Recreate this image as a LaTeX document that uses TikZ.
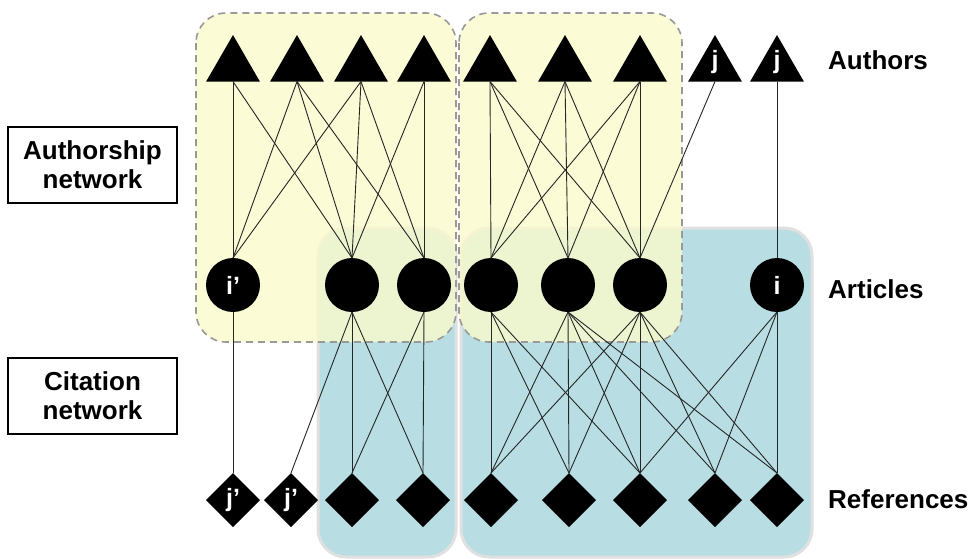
\documentclass[tikz,border=0pt]{standalone}
\usepackage{fontspec}
\setmainfont{Liberation Sans}
\usetikzlibrary{shapes.geometric}
\definecolor{yel}{RGB}{251,250,204}
\definecolor{blu}{RGB}{184,222,228}
\newcommand\lblfont{\bfseries\fontsize{26}{29}\selectfont}
\newcommand\infont{\bfseries\fontsize{25}{25}\selectfont}
\begin{document}
\begin{tikzpicture}[x=1pt,y=-1pt,
  author/.style={regular polygon, regular polygon sides=3, fill=black, minimum size=62pt, inner sep=0pt, outer sep=0pt},
  article/.style={circle, fill=black, minimum size=54pt, inner sep=0pt, outer sep=0pt, text=white, font=\infont},
  refnode/.style={diamond, fill=black, minimum size=54pt, inner sep=0pt, outer sep=0pt, text=white, font=\infont},
  link/.style={line width=0.9pt, draw=black!85},
  lbl/.style={anchor=base west, inner sep=0pt, font=\lblfont},
  netbox/.style={draw=black, line width=2pt, minimum width=169pt, minimum height=76pt, align=center, inner sep=0pt, font=\lblfont},
  yelbox/.style={fill=yel, fill opacity=0.8, draw=black!40, dash pattern=on 7pt off 5pt, line width=1.6pt, rounded corners=30pt},
  blubox/.style={fill=blu, draw=black!12, line width=3pt, rounded corners=28pt}
]
\useasboundingbox (0,0) rectangle (970,558);
\fill[white] (0,0) rectangle (970,558);
% backgrounds
\path[blubox] (318,228) rectangle (456,557);
\path[blubox] (461,228) rectangle (812,557);
\path[yelbox] (196,13) rectangle (456,342);
\path[yelbox] (459,13) rectangle (682,342);
% authors
\foreach \i/\x in {1/233,2/297,3/361,4/424,5/490,6/565,7/640}
  \node[author] (a\i) at (\x,66) {};
\node[author, label={[text=white, font=\infont, yshift=4pt]center:j}] (a8) at (715,66) {};
\node[author, label={[text=white, font=\infont, yshift=4pt]center:j}] (a9) at (777,66) {};
% articles
\node[article] (c1) at (233,285) {i’};
\foreach \i/\x in {2/352,3/424,4/491,5/568,6/640}
  \node[article] (c\i) at (\x,285) {};
\node[article] (c7) at (777,285) {i};
% references
\node[refnode] (r1) at (233,500) {j’};
\node[refnode] (r2) at (291,500) {j’};
\foreach \i/\x in {3/352,4/423,5/491,6/569,7/640,8/715,9/777}
  \node[refnode] (r\i) at (\x,500) {};
% authorship links
\foreach \p/\q in {1/1,1/2,2/1,2/2,2/3,3/1,3/2,3/3,4/2,4/3,5/4,5/5,5/6,6/4,6/5,6/6,7/4,7/5,7/6,8/6,9/7}
  \draw[link] (a\p.south) -- (c\q.north);
% citation links
\foreach \p/\q in {1/1,2/2,2/3,2/4,3/3,3/4,4/5,4/6,4/7,5/5,5/6,5/7,5/8,5/9,6/5,6/6,6/7,6/8,6/9,7/7,7/8,7/9}
  \draw[link] (c\p.south) -- (r\q.north);
% labels
\node[lbl] (lauth) at (828,69) {Authors};
\node[lbl] (lart) at (828,298) {Articles};
\node[lbl] (lref) at (828,508) {References};
\node[netbox] (nb1) at (92.5,165) {Authorship\\network};
\node[netbox] (nb2) at (92.5,396) {Citation\\network};
\end{tikzpicture}
\end{document}
